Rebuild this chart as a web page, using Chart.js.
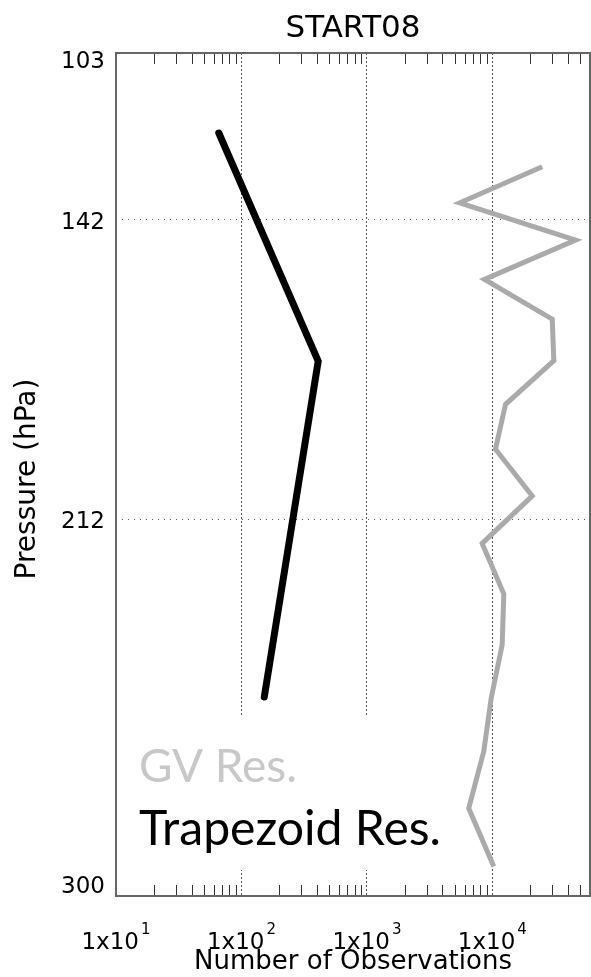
<!DOCTYPE html>
<html><head><meta charset="utf-8">
<script src="https://cdn.jsdelivr.net/npm/chart.js@4/dist/chart.umd.min.js"></script>
<style>html,body{margin:0;padding:0;background:#fff}</style>
</head><body>
<canvas id="c" width="591" height="977"></canvas>
<script>
const chartTitle = 'START08';
const xAxisTitle = 'Number of Observations';
const yAxisTitle = 'Pressure (hPa)';
const xTickValues = [10, 100, 1000, 10000];
const xTickBases = ['1x10', '1x10', '1x10', '1x10'];
const xTickExponents = ['1', '2', '3', '4'];
const xMinorValues = [20,30,40,50,60,70,80,90,200,300,400,500,600,700,800,900,2000,3000,4000,5000,6000,7000,8000,9000,20000,30000,40000,50000];
const yTickValues = [103, 142, 212, 300];
const yTickLabels = ['103', '142', '212', '300'];
const gvPressure = [129.6,138.0,146.7,155.9,165.2,174.9,185.1,195.6,206.5,217.6,229.4,241.3,253.8,266.2,279.5,293.1];
const gvCount = [24950,5495,46030,8650,30000,30900,12730,10590,20790,8290,12330,11970,9780,8540,6480,10260];
const trapPressure = [121.7, 175.0, 253.5];
const trapCount = [66, 409, 152];
const seriesLabels = ['GV Res.', 'Trapezoid Res.'];

const AXFONT = '"DejaVu Sans", sans-serif';

const decor = {
  id: 'decor',
  beforeDatasetsDraw(chart) {
    const {ctx, chartArea: a, scales: {x, y}} = chart;
    ctx.save();
    ctx.fillStyle = '#fff';
    ctx.fillRect(130, 716, 325, 154);
    ctx.strokeStyle = '#333';
    ctx.lineWidth = 1;
    ctx.beginPath();
    xMinorValues.forEach(v => {
      const px = Math.round(x.getPixelForValue(v)) + 0.5;
      ctx.moveTo(px, a.top); ctx.lineTo(px, a.top + 11);
      ctx.moveTo(px, a.bottom); ctx.lineTo(px, a.bottom - 11);
    });
    ctx.stroke();
    ctx.strokeStyle = '#666';
    ctx.lineWidth = 2;
    ctx.strokeRect(a.left, a.top, a.right - a.left, a.bottom - a.top);
    ctx.textBaseline = 'alphabetic';
    ctx.textAlign = 'left';
    const fit = (txt, w) => {
      ctx.font = '100px Lato';
      return 100 * w / ctx.measureText(txt).width;
    };
    let s = fit(seriesLabels[0], 158);
    ctx.font = s.toFixed(1) + 'px Lato';
    ctx.fillStyle = '#c8c8c8';
    ctx.fillText(seriesLabels[0], 139, 782);
    s = fit(seriesLabels[1], 302);
    ctx.font = s.toFixed(1) + 'px Lato';
    ctx.fillStyle = '#000';
    ctx.fillText(seriesLabels[1], 139, 845);
    ctx.restore();
  },
  afterDraw(chart) {
    const {ctx, chartArea: a, scales: {x, y}} = chart;
    ctx.save();
    ctx.fillStyle = '#000';
    ctx.font = '23px ' + AXFONT;
    ctx.textAlign = 'right';
    yTickValues.forEach((v, i) => {
      const py = y.getPixelForValue(v);
      if (i === 0) { ctx.textBaseline = 'top'; ctx.fillText(yTickLabels[i], 105, py - 2); }
      else if (i === yTickValues.length - 1) { ctx.textBaseline = 'bottom'; ctx.fillText(yTickLabels[i], 105, py + 3); }
      else { ctx.textBaseline = 'middle'; ctx.fillText(yTickLabels[i], 105, py + 3); }
    });
    // x tick labels with superscript exponents
    ctx.textAlign = 'left';
    ctx.textBaseline = 'middle';
    xTickValues.forEach((v, i) => {
      const px = x.getPixelForValue(v);
      ctx.font = '23px ' + AXFONT;
      const wb = ctx.measureText(xTickBases[i]).width;
      ctx.font = '15px ' + AXFONT;
      const we = ctx.measureText(xTickExponents[i]).width;
      const left = px - (wb + 2 + we) / 2;
      ctx.font = '23px ' + AXFONT;
      ctx.fillText(xTickBases[i], left, 943);
      ctx.font = '15px ' + AXFONT;
      ctx.fillText(xTickExponents[i], left + wb + 2, 930);
    });
    ctx.textAlign = 'center';
    ctx.textBaseline = 'middle';
    ctx.font = '31px ' + AXFONT;
    ctx.fillText(chartTitle, (a.left + a.right) / 2, 29);
    ctx.font = '26px ' + AXFONT;
    ctx.fillText(xAxisTitle, (a.left + a.right) / 2, 962);
    ctx.translate(28, 479);
    ctx.rotate(-Math.PI / 2);
    ctx.font = '28px ' + AXFONT;
    ctx.fillText(yAxisTitle, 0, 0);
    ctx.restore();
  }
};

new Chart(document.getElementById('c'), {
  type: 'scatter',
  data: {
    datasets: [
      {
        label: seriesLabels[0],
        data: gvCount.map((v, i) => ({x: v, y: gvPressure[i]})),
        showLine: true, borderColor: '#aaaaaa', borderWidth: 5,
        pointRadius: 0, borderJoinStyle: 'miter', borderCapStyle: 'butt'
      },
      {
        label: seriesLabels[1],
        data: trapCount.map((v, i) => ({x: v, y: trapPressure[i]})),
        showLine: true, borderColor: '#000', borderWidth: 7,
        pointRadius: 0, borderJoinStyle: 'miter', borderCapStyle: 'round'
      }
    ]
  },
  options: {
    responsive: false, animation: false, devicePixelRatio: 1,
    layout: {padding: {top: 53, right: 1, left: 0, bottom: 0}},
    plugins: {legend: {display: false}, tooltip: {enabled: false}, title: {display: false}},
    scales: {
      x: {
        type: 'logarithmic', min: 10, max: 60000, position: 'bottom',
        afterBuildTicks: s => { s.ticks = xTickValues.map(v => ({value: v})); },
        afterFit: s => { s.height = 81; },
        ticks: {display: false},
        grid: {
          drawTicks: false,
          color: c => (c.tick && c.tick.value === 10) ? 'rgba(0,0,0,0)' : '#555',
          lineWidth: 1
        },
        border: {display: false, dash: [2, 2]}
      },
      y: {
        type: 'linear', reverse: true, min: 103, max: 300,
        afterBuildTicks: s => { s.ticks = yTickValues.map(v => ({value: v})); },
        afterFit: s => { s.width = 116; },
        ticks: {display: false},
        grid: {
          drawTicks: false,
          color: c => (c.tick && (c.tick.value === 103 || c.tick.value === 300)) ? 'rgba(0,0,0,0)' : '#555',
          lineWidth: 1
        },
        border: {display: false, dash: [1, 5]}
      }
    }
  },
  plugins: [decor]
});
</script>
</body></html>
